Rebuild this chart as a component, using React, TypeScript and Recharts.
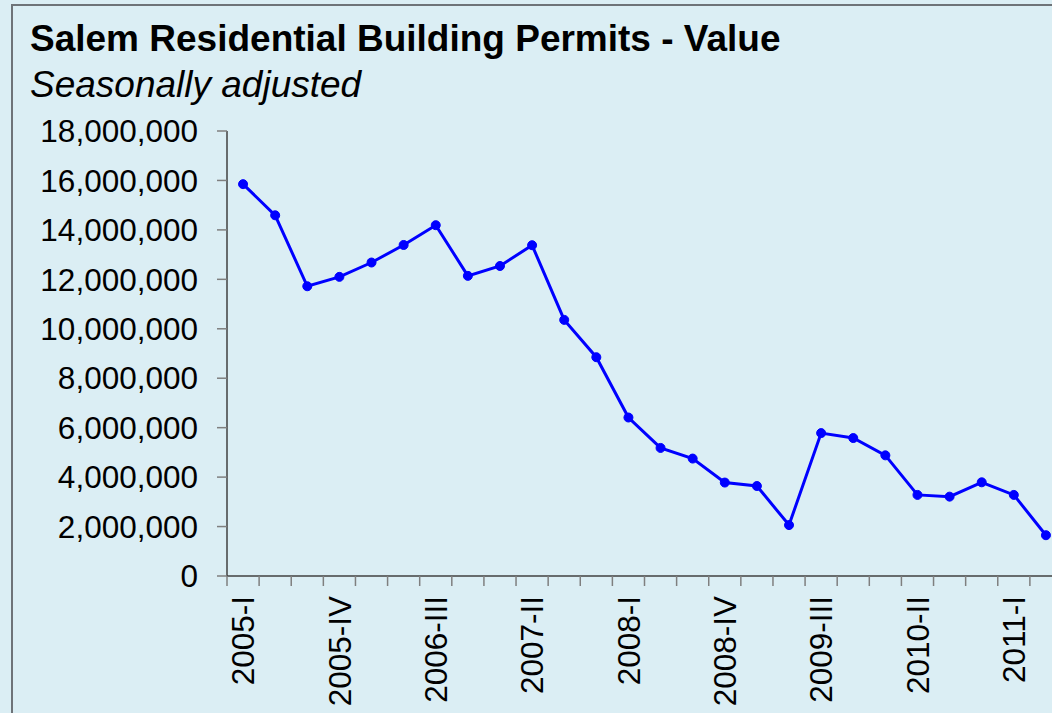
import React from 'react';
import { LineChart, Line, XAxis, YAxis } from 'recharts';

const quarters = [
  '2005-I', '2005-II', '2005-III', '2005-IV',
  '2006-I', '2006-II', '2006-III', '2006-IV',
  '2007-I', '2007-II', '2007-III', '2007-IV',
  '2008-I', '2008-II', '2008-III', '2008-IV',
  '2009-I', '2009-II', '2009-III', '2009-IV',
  '2010-I', '2010-II', '2010-III', '2010-IV',
  '2011-I', '2011-II',
];

const permitValues = [
  15850000, 14590000, 11720000, 12100000,
  12680000, 13390000, 14190000, 12140000,
  12540000, 13380000, 10360000, 8850000,
  6410000, 5180000, 4750000, 3780000,
  3640000, 2060000, 5780000, 5580000,
  4880000, 3280000, 3210000, 3790000,
  3280000, 1650000,
];

const yTicks = [0, 2000000, 4000000, 6000000, 8000000, 10000000, 12000000, 14000000, 16000000, 18000000];

const data = quarters.map((q, i) => ({ q, v: permitValues[i] }));

const BG = '#DBEEF4';
const FONT = 'Arial, "Liberation Sans", sans-serif';
const CHART_W = 1062;
const CHART_H = 713;
const Y_AXIS_W = 227;

const XTick = (props: any) => {
  const { x, y, payload, index } = props;
  const half = payload && typeof payload.offset === 'number' && payload.offset > 0
    ? payload.offset
    : (CHART_W - Y_AXIS_W) / quarters.length / 2;
  const bx = x - half;
  return (
    <g>
      <line x1={bx} x2={bx} y1={y} y2={y + 10} stroke="#7f7f7f" strokeWidth={1.5} />
      {index % 3 === 0 ? (
        <text
          x={x}
          y={y + 20}
          transform={`rotate(-90, ${x}, ${y + 20})`}
          textAnchor="end"
          dy="0.355em"
          fill="#000"
          fontSize={31.5}
          fontFamily={FONT}
        >
          {payload.value}
        </text>
      ) : null}
    </g>
  );
};

export default function App() {
  return (
    <div
      style={{
        position: 'fixed',
        left: 0,
        top: 0,
        width: 1052,
        height: 713,
        background: BG,
        overflow: 'hidden',
      }}
    >
      <div
        style={{
          position: 'absolute',
          left: 11,
          top: 4,
          width: 2000,
          height: 2000,
          border: '2px solid #6E7378',
          boxSizing: 'border-box',
        }}
      />
      <svg
        width={1052}
        height={130}
        style={{ position: 'absolute', left: 0, top: 0 }}
      >
        <text x={30} y={51} fontFamily={FONT} fontWeight="bold" fontSize={37} fill="#000">
          Salem Residential Building Permits - Value
        </text>
        <text x={30} y={97} fontFamily={FONT} fontStyle="italic" fontSize={37} fill="#000">
          Seasonally adjusted
        </text>
      </svg>
      <div style={{ position: 'absolute', left: 0, top: 0 }}>
        <LineChart
          width={CHART_W}
          height={CHART_H}
          data={data}
          margin={{ top: 131, right: 0, bottom: 0, left: 0 }}
        >
          <XAxis
            dataKey="q"
            scale="band"
            interval={0}
            height={CHART_H - 576}
            tickLine={false}
            tickSize={0}
            tickMargin={0}
            axisLine={{ stroke: '#404040', strokeWidth: 1.5 }}
            tick={<XTick />}
          />
          <YAxis
            width={Y_AXIS_W}
            domain={[0, 18000000]}
            ticks={yTicks}
            interval={0}
            tickSize={10}
            tickMargin={19}
            tickLine={{ stroke: '#7f7f7f', strokeWidth: 1.5 }}
            axisLine={{ stroke: '#404040', strokeWidth: 1.5 }}
            tick={{ fill: '#000', fontSize: 31.5, fontFamily: FONT }}
            tickFormatter={(v: number) => v.toLocaleString('en-US')}
          />
          <Line
            type="linear"
            dataKey="v"
            stroke="#0000FF"
            strokeWidth={3}
            dot={{ r: 4.5, fill: '#0000FF', stroke: '#0000FF', strokeWidth: 1 }}
            isAnimationActive={false}
          />
        </LineChart>
      </div>
    </div>
  );
}
